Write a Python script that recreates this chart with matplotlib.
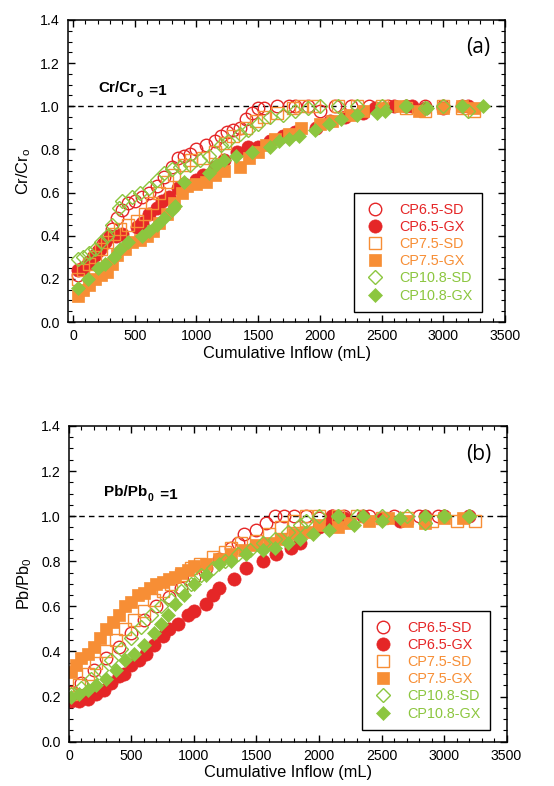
import matplotlib
matplotlib.use("Agg")
import matplotlib.pyplot as plt
from matplotlib.ticker import MultipleLocator

plt.rcParams['font.family'] = ['Liberation Sans', 'DejaVu Sans']

RED = '#E52627'
ORANGE = '#F78E35'
GREEN = '#8CC63F'

labels = ['CP6.5-SD', 'CP6.5-GX', 'CP7.5-SD', 'CP7.5-GX', 'CP10.8-SD', 'CP10.8-GX']

# ---------- Panel (a): Cr ----------
a_sd65_x = [40, 80, 120, 160, 200, 240, 280, 320, 360, 400, 450, 500, 560, 620, 680, 740, 800, 850, 900, 950,
            1000, 1080, 1150, 1200, 1250, 1300, 1350, 1400, 1450, 1500, 1550, 1650, 1750, 1800, 1900, 2000, 2120,
            2250, 2400, 2550, 2700, 2850, 3000]
a_sd65_y = [0.22, 0.25, 0.27, 0.30, 0.33, 0.36, 0.39, 0.43, 0.48, 0.52, 0.55, 0.56, 0.58, 0.60, 0.63, 0.67, 0.72,
            0.76, 0.77, 0.78, 0.80, 0.82, 0.84, 0.86, 0.88, 0.89, 0.90, 0.94, 0.97, 0.99, 0.99, 1.0, 1.0, 1.0, 1.0,
            0.98, 1.0, 1.0, 1.0, 1.0, 1.0, 1.0, 1.0]

a_gx65_x = [40, 80, 130, 180, 220, 260, 300, 350, 400, 520, 560, 620, 680, 720, 780, 850, 900, 1000, 1050, 1150,
            1220, 1330, 1420, 1500, 1600, 1700, 1800, 1970, 2080, 2200, 2350, 2450, 2600, 2750, 2850, 3000, 3150, 3200]
a_gx65_y = [0.24, 0.25, 0.28, 0.31, 0.34, 0.37, 0.40, 0.40, 0.41, 0.44, 0.46, 0.50, 0.53, 0.56, 0.58, 0.62, 0.64,
            0.66, 0.68, 0.72, 0.75, 0.79, 0.81, 0.81, 0.84, 0.86, 0.88, 0.90, 0.93, 0.95, 0.97, 0.99, 1.0, 1.0, 0.99,
            0.99, 1.0, 1.0]

a_sd75_x = [40, 80, 130, 180, 230, 280, 330, 380, 450, 520, 580, 640, 700, 760, 820, 900, 960, 1050, 1150, 1230,
            1300, 1400, 1480, 1550, 1650, 1780, 1850, 1950, 2150, 2300, 2500, 2700, 2850, 3000, 3150, 3250]
a_sd75_y = [0.20, 0.24, 0.27, 0.30, 0.34, 0.37, 0.41, 0.43, 0.45, 0.47, 0.50, 0.55, 0.60, 0.65, 0.68, 0.73, 0.75,
            0.76, 0.79, 0.83, 0.86, 0.90, 0.93, 0.95, 0.97, 0.99, 1.0, 1.0, 1.0, 1.0, 1.0, 0.99, 0.98, 1.0, 0.99, 0.98]

a_gx75_x = [40, 80, 130, 180, 230, 280, 320, 360, 420, 480, 540, 600, 650, 700, 760, 820, 880, 920, 1000, 1080,
            1150, 1220, 1350, 1430, 1500, 1560, 1640, 1750, 1850, 2000, 2100, 2250, 2350, 2500, 2650, 2800, 3000,
            3150, 3250]
a_gx75_y = [0.12, 0.15, 0.17, 0.20, 0.22, 0.23, 0.27, 0.31, 0.34, 0.37, 0.38, 0.40, 0.42, 0.46, 0.50, 0.55, 0.60,
            0.63, 0.64, 0.65, 0.68, 0.70, 0.72, 0.76, 0.79, 0.82, 0.85, 0.87, 0.90, 0.92, 0.93, 0.96, 0.98, 0.99,
            1.0, 0.98, 0.99, 1.0, 0.99]

a_sd108_x = [40, 80, 130, 180, 230, 280, 320, 370, 400, 480, 540, 620, 680, 740, 800, 870, 950, 1030, 1100, 1200,
             1260, 1350, 1420, 1500, 1600, 1700, 1800, 1900, 2000, 2150, 2300, 2500, 2700, 2850, 3000, 3200]
a_sd108_y = [0.29, 0.30, 0.32, 0.34, 0.37, 0.40, 0.45, 0.53, 0.56, 0.58, 0.60, 0.62, 0.66, 0.69, 0.71, 0.72, 0.73,
             0.75, 0.77, 0.82, 0.84, 0.87, 0.89, 0.92, 0.95, 0.96, 0.98, 0.99, 1.0, 1.0, 1.0, 1.0, 1.0, 0.99, 1.0, 0.98]

a_gx108_x = [40, 120, 200, 260, 330, 380, 450, 560, 620, 680, 740, 800, 830, 900, 1100, 1160, 1220, 1320, 1450,
             1600, 1670, 1750, 1830, 1960, 2070, 2170, 2300, 2460, 2530, 2700, 2870, 3150, 3320]
a_gx108_y = [0.16, 0.20, 0.25, 0.27, 0.30, 0.34, 0.37, 0.40, 0.42, 0.45, 0.48, 0.52, 0.54, 0.65, 0.69, 0.73, 0.75,
             0.77, 0.79, 0.81, 0.84, 0.85, 0.86, 0.89, 0.92, 0.94, 0.96, 0.97, 0.98, 1.0, 0.99, 1.0, 1.0]

# ---------- Panel (b): Pb ----------
b_sd65_x = [20, 100, 200, 300, 400, 500, 600, 700, 800, 900, 1000, 1100, 1200, 1300, 1350, 1400, 1500, 1580,
            1650, 1720, 1800, 1900, 2000, 2100, 2200, 2400, 2600, 2800, 2950]
b_sd65_y = [0.22, 0.26, 0.32, 0.37, 0.42, 0.48, 0.54, 0.60, 0.64, 0.68, 0.73, 0.77, 0.81, 0.86, 0.88, 0.92, 0.94,
            0.97, 1.0, 1.0, 1.0, 1.0, 0.99, 1.0, 1.0, 1.0, 1.0, 1.0, 1.0]

b_gx65_x = [20, 80, 150, 220, 280, 340, 400, 440, 500, 560, 620, 680, 750, 800, 870, 950, 1000, 1100, 1150, 1200,
            1320, 1420, 1550, 1660, 1780, 1850, 2000, 2060, 2100, 2200, 2350, 2500, 2650, 2850, 3000, 3200]
b_gx65_y = [0.18, 0.18, 0.19, 0.21, 0.23, 0.26, 0.29, 0.30, 0.34, 0.36, 0.39, 0.43, 0.47, 0.50, 0.52, 0.56, 0.58,
            0.61, 0.65, 0.68, 0.72, 0.77, 0.80, 0.83, 0.86, 0.88, 0.95, 0.96, 1.0, 0.99, 1.0, 0.99, 0.98, 1.0, 1.0, 1.0]

b_sd75_x = [20, 80, 150, 220, 300, 380, 450, 520, 600, 680, 750, 820, 900, 980, 1050, 1150, 1250, 1300, 1380,
            1500, 1600, 1700, 1800, 1900, 2000, 2150, 2300, 2500, 2700, 2900, 3100, 3250]
b_sd75_y = [0.21, 0.25, 0.30, 0.35, 0.40, 0.45, 0.50, 0.54, 0.58, 0.63, 0.67, 0.70, 0.74, 0.77, 0.79, 0.82, 0.84,
            0.86, 0.88, 0.89, 0.92, 0.95, 0.98, 1.0, 1.0, 1.0, 1.0, 0.99, 0.99, 0.98, 0.98, 0.98]

b_gx75_x = [20, 60, 100, 150, 200, 250, 300, 350, 400, 450, 500, 550, 600, 650, 700, 750, 800, 850, 900, 950,
            1000, 1100, 1200, 1300, 1400, 1500, 1600, 1700, 1800, 1900, 2000, 2150, 2250, 2400, 2550, 2700, 2850,
            3000, 3150]
b_gx75_y = [0.31, 0.34, 0.37, 0.39, 0.42, 0.46, 0.50, 0.53, 0.56, 0.60, 0.62, 0.65, 0.66, 0.68, 0.70, 0.71, 0.72,
            0.73, 0.75, 0.76, 0.78, 0.79, 0.81, 0.83, 0.85, 0.87, 0.88, 0.90, 0.92, 0.93, 0.96, 0.95, 0.97, 0.98,
            0.99, 0.98, 0.97, 0.99, 0.99]

b_sd108_x = [20, 100, 180, 260, 340, 420, 500, 580, 660, 740, 820, 900, 980, 1060, 1150, 1250, 1350, 1450, 1550,
             1650, 1750, 1850, 1900, 2000, 2150, 2300, 2500, 2700, 2850, 3000, 3200]
b_sd108_y = [0.21, 0.24, 0.28, 0.32, 0.36, 0.41, 0.46, 0.51, 0.56, 0.60, 0.63, 0.67, 0.70, 0.74, 0.77, 0.80, 0.83,
             0.85, 0.88, 0.90, 0.93, 0.96, 0.98, 1.0, 1.0, 1.0, 1.0, 1.0, 0.97, 1.0, 1.0]

b_gx108_x = [20, 80, 150, 220, 300, 380, 450, 520, 600, 680, 740, 790, 850, 920, 1000, 1100, 1200, 1300, 1420,
             1550, 1650, 1750, 1850, 1950, 2080, 2150, 2280, 2350, 2500, 2650, 2850, 3000, 3200]
b_gx108_y = [0.20, 0.21, 0.23, 0.25, 0.28, 0.32, 0.36, 0.39, 0.43, 0.48, 0.52, 0.56, 0.61, 0.65, 0.70, 0.74, 0.79,
             0.80, 0.83, 0.85, 0.86, 0.88, 0.90, 0.92, 0.94, 1.0, 0.96, 1.0, 0.98, 0.99, 1.0, 1.0, 1.0]

styles = [
    dict(marker='o', ms=9.0, mfc='none', mec=RED, mew=1.0),
    dict(marker='o', ms=9.5, mfc=RED, mec=RED, mew=0.5),
    dict(marker='s', ms=8.5, mfc='none', mec=ORANGE, mew=1.0),
    dict(marker='s', ms=8.5, mfc=ORANGE, mec=ORANGE, mew=0.5),
    dict(marker='D', ms=7.2, mfc='none', mec=GREEN, mew=1.0),
    dict(marker='D', ms=7.5, mfc=GREEN, mec=GREEN, mew=0.5),
]
text_colors = [RED, RED, ORANGE, ORANGE, GREEN, GREEN]

panel_a = [(a_sd65_x, a_sd65_y), (a_gx65_x, a_gx65_y), (a_sd75_x, a_sd75_y),
           (a_gx75_x, a_gx75_y), (a_sd108_x, a_sd108_y), (a_gx108_x, a_gx108_y)]
panel_b = [(b_sd65_x, b_sd65_y), (b_gx65_x, b_gx65_y), (b_sd75_x, b_sd75_y),
           (b_gx75_x, b_gx75_y), (b_sd108_x, b_sd108_y), (b_gx108_x, b_gx108_y)]

fig = plt.figure(figsize=(5.54, 7.86), dpi=100)
ax_a = fig.add_axes([0.1227, 0.5903, 0.789, 0.3843])
ax_b = fig.add_axes([0.1245, 0.0564, 0.7898, 0.4017])


def setup(ax, data, xmin, ylabel_main, ylabel_sub, tag, note_main, note_sub, note_xy, leg_anchor):
    handles = []
    for (xs, ys), st, lab in zip(data, styles, labels):
        h, = ax.plot(xs, ys, ls='none', label=lab, **st)
        handles.append(h)
    ax.axhline(1.0, color='black', ls=(0, (4, 3)), lw=1.0, zorder=0.5)
    ax.set_xlim(xmin, 3500)
    ax.set_ylim(0, 1.4)
    ax.xaxis.set_major_locator(MultipleLocator(500))
    ax.xaxis.set_minor_locator(MultipleLocator(100))
    ax.yaxis.set_major_locator(MultipleLocator(0.2))
    ax.yaxis.set_minor_locator(MultipleLocator(0.05))
    ax.yaxis.set_major_formatter(matplotlib.ticker.FormatStrFormatter('%.1f'))
    ax.tick_params(which='both', direction='in', top=True, right=True, labelsize=10.2, colors='black')
    ax.tick_params(axis='x', which='major', pad=5)
    ax.tick_params(axis='y', which='major', pad=6)
    ax.tick_params(which='major', length=5, width=1.0)
    ax.tick_params(which='minor', length=3, width=0.8)
    for s in ax.spines.values():
        s.set_linewidth(1.1)
    ax.set_xlabel('Cumulative Inflow (mL)', fontsize=11.8, labelpad=2)
    ax.set_ylabel(ylabel_main + r'$_\mathregular{' + ylabel_sub + '}$', fontsize=11.8, labelpad=5)
    ax.text(0.965, 0.91, tag, transform=ax.transAxes, ha='right', va='center',
            fontsize=15, family=['Open Sans', 'DejaVu Sans'])
    t1 = ax.text(note_xy[0], note_xy[1], note_main, fontsize=11, fontweight='bold', ha='left', va='baseline')
    ax.annotate(note_sub, xy=(1, 0), xycoords=t1, xytext=(0.5, -1.5), textcoords='offset points',
                fontsize=7.5, fontweight='bold', ha='left', va='baseline')
    ax.annotate(' =1', xy=(1, 0), xycoords=t1, xytext=(6, 0), textcoords='offset points',
                fontsize=11, fontweight='bold', ha='left', va='baseline')
    leg = ax.legend(handles=handles, loc='lower right', bbox_to_anchor=leg_anchor, fontsize=10.4,
                    frameon=True, fancybox=False, edgecolor='black', framealpha=1,
                    labelspacing=0.22, handletextpad=0.9, borderpad=0.65, handlelength=1.6,
                    borderaxespad=0)
    leg.get_frame().set_linewidth(1.0)
    for txt, c in zip(leg.get_texts(), text_colors):
        txt.set_color(c)


setup(ax_a, panel_a, -40, 'Cr/Cr', 'o', '(a)', 'Cr/Cr', 'o', (205, 1.065), (0.947, 0.033))
setup(ax_b, panel_b, 0, 'Pb/Pb', '0', '(b)', 'Pb/Pb', '0', (280, 1.09), (0.962, 0.037))

fig.savefig('out.png', dpi=100)
